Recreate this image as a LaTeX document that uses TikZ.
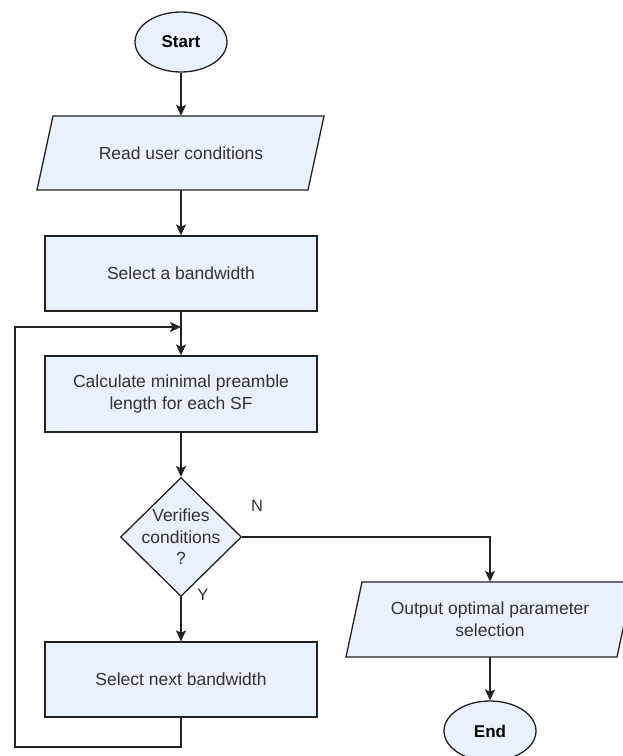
\documentclass[tikz,border=0pt]{standalone}
\usepackage{fontspec}
\setmainfont{Liberation Sans}
\usetikzlibrary{arrows.meta,shapes.geometric}
\definecolor{boxfill}{HTML}{EAF1FC}
\definecolor{ink}{HTML}{333333}
\definecolor{edge}{HTML}{222222}
\begin{document}
\begin{tikzpicture}[x=1pt,y=-1pt,
  font=\fontsize{17.5}{22}\selectfont,
  shapeline/.style={draw=edge,line width=1.3pt,fill=boxfill},
  term/.style={shapeline,ellipse,minimum width=92pt,minimum height=60pt,inner sep=0pt,text=black,font=\fontsize{17}{20}\selectfont\bfseries},
  procbox/.style={shapeline,rectangle,minimum width=272pt,minimum height=75pt,inner sep=0pt,text=ink,align=center},
  iobox/.style={rectangle,minimum width=271pt,minimum height=74pt,inner sep=0pt,text=ink,align=center},
  arr/.style={draw=edge,line width=1.3pt,-{Stealth[length=11pt,width=10pt,inset=2.5pt]}},
  flowlabel/.style={text=ink,inner sep=0pt,font=\fontsize{16.5}{20}\selectfont}]
\useasboundingbox (0,0) rectangle (622,756);

% start terminal
\node[term] (start) at (181,42) {Start};

% input parallelogram
\draw[shapeline] (53,116) -- (324,116) -- (308,190) -- (37,190) -- cycle;
\node[iobox] (read) at (181,153) {Read user conditions};

% process steps
\node[procbox] (sel) at (181,273.5) {Select a bandwidth};
\node[procbox,minimum height=76pt] (calc) at (181,394) {Calculate minimal preamble\\length for each SF};

% decision
\node[shapeline,diamond,minimum width=121pt,minimum height=119pt,inner sep=0pt] (dec) at (181,537) {};
\node[text=ink,align=center,inner sep=0pt,font=\fontsize{17.5}{21.5}\selectfont] at (181,537) {Verifies\\conditions\\?};

\node[procbox] (next) at (181,679.5) {Select next bandwidth};

% output parallelogram
\draw[shapeline] (362,582) -- (633,582) -- (617,657) -- (346,657) -- cycle;
\node[iobox,minimum height=75pt] (out) at (490,619.5) {Output optimal parameter\\selection};

% end terminal
\node[term] (endn) at (490,731) {End};

% loop-back route
\coordinate (lb) at (15,747);
\coordinate (lt) at (15,327);
\coordinate (join) at (181,327);

% connectors
\draw[arr] (start) -- (read);
\draw[arr] (read) -- (sel);
\draw[arr] (sel) -- (calc);
\draw[arr] (calc) -- (dec);
\draw[arr] (dec) -- (next);
\draw[arr] (dec.east) -| (out.north);
\draw[arr] (out) -- (endn);
\draw[arr] (next.south) |- (lb) -- (lt) -- (join);

% branch labels
\node[flowlabel] (nlab) at (257,506) {N};
\node[flowlabel] (ylab) at (203,595) {Y};
\end{tikzpicture}
\end{document}
